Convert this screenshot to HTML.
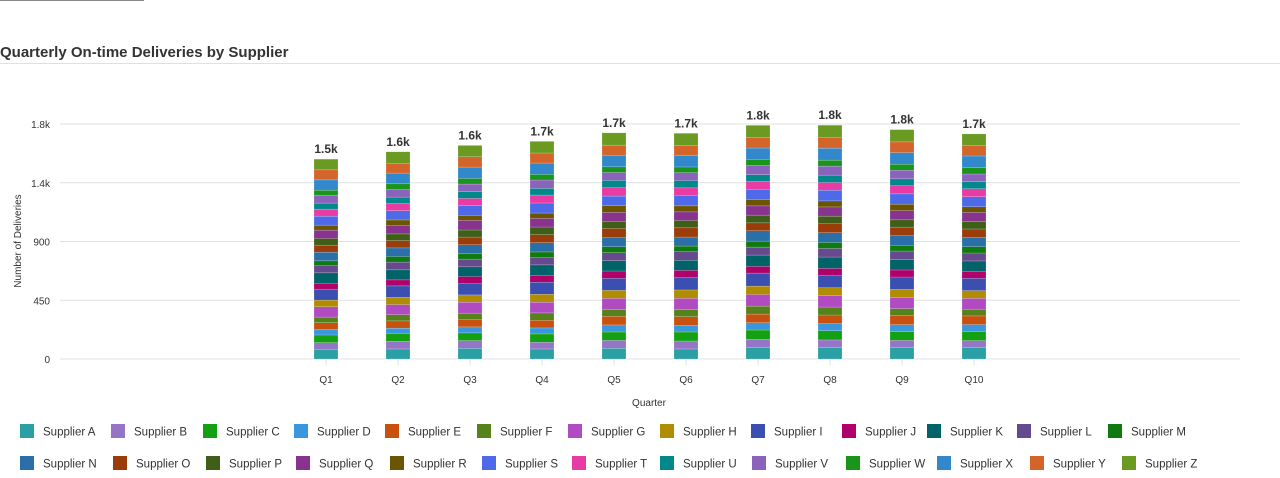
<!DOCTYPE html>
<html><head><meta charset="utf-8"><style>
body{margin:0;width:1280px;height:478px;background:#fff;font-family:"Liberation Sans",sans-serif;overflow:hidden;position:relative}
.t{position:absolute;left:0;top:44px;font-size:15px;font-weight:bold;color:#333}
</style></head><body>
<div style="position:absolute;left:0;top:0;width:144px;height:1px;background:#888"></div>
<div class="t">Quarterly On-time Deliveries by Supplier</div>
<div style="position:absolute;left:0;top:63px;width:1280px;height:1px;background:#e0e0e0"></div>
<svg id="chart" width="1280" height="478" style="position:absolute;left:0;top:0" font-family="Liberation Sans, sans-serif"></svg>
<script>
const quarters=["Q1","Q2","Q3","Q4","Q5","Q6","Q7","Q8","Q9","Q10"];
const suppliers=["Supplier A","Supplier B","Supplier C","Supplier D","Supplier E","Supplier F","Supplier G","Supplier H","Supplier I","Supplier J","Supplier K","Supplier L","Supplier M","Supplier N","Supplier O","Supplier P","Supplier Q","Supplier R","Supplier S","Supplier T","Supplier U","Supplier V","Supplier W","Supplier X","Supplier Y","Supplier Z"];
const colors=["#2aa0a4","#9575c5","#13a113","#3a97dd","#c9510f","#55821a","#b04bc2","#b08c00","#3b4fb1","#b0006a","#006368","#654b8d","#0f7a0f","#2a6fa8","#9b3d0a","#3f5e17","#88348f","#6b5500","#4e6ae8","#e83ca4","#00888a","#8a63bb","#18951a","#3388cc","#d4652a","#6a9a22"];
const q1=[74,51,59,43,51,43,79,51,84,43,82,56,36,66,54,51,64,38,69,54,46,61,38,79,77,82];
const q2=[77,59,59,41,56,48,77,56,87,46,77,59,43,66,56,51,64,43,71,56,48,59,43,82,74,89];
const q3=[82,59,59,46,56,49,84,56,87,54,74,59,41,69,59,54,74,38,74,56,51,59,43,87,79,87];
const q4=[77,51,64,46,59,56,82,61,92,51,82,56,43,71,61,59,66,41,77,61,51,64,43,87,77,89];
const q5=[82,61,64,54,66,51,87,61,92,56,79,61,46,69,71,54,69,51,74,64,56,61,43,89,77,94];
const q6=[77,61,69,51,66,54,87,64,94,56,77,66,43,69,71,56,66,46,79,59,56,61,43,87,79,92];
const q7=[87,64,71,56,66,61,89,64,100,51,87,61,46,79,61,59,71,48,79,61,51,71,46,87,82,92];
const q8=[87,59,71,54,66,61,87,61,94,54,87,66,46,74,71,56,71,46,82,59,56,69,46,92,82,94];
const q9=[87,56,66,54,69,54,84,64,94,54,79,66,43,74,66,56,71,49,79,64,51,66,46,89,82,94];
const q10=[87,54,69,54,66,51,84,59,94,54,79,61,49,71,64,56,71,43,77,61,54,59,49,89,82,87];
const seriesByQuarter=[q1,q2,q3,q4,q5,q6,q7,q8,q9,q10];
const yTicks=[0,450,900,1350,1800];
const yTickLabels=["0","450","900","1.4k","1.8k"];

const NS="http://www.w3.org/2000/svg";
const svg=document.getElementById('chart');
function mk(t,a){const e=document.createElementNS(NS,t);for(const k in a)e.setAttribute(k,a[k]);svg.appendChild(e);return e;}
const y=v=>359-v*235/1800;
const x=i=>326+72*i;
const bw=24;
yTicks.forEach((v,i)=>{
  const g=mk('line',{x1:60,x2:1240,y1:y(v),y2:y(v),stroke:'#e0e0e0','stroke-width':1});
  
  
  const t=mk('text',{x:50,y:y(v)+4,'text-anchor':'end','font-size':10,fill:'#333'});
  t.textContent=yTickLabels[i];
  
  
});
quarters.forEach((q,i)=>{
  let acc=0;
  const vals=seriesByQuarter[i];
  vals.forEach((v,s)=>{
    const r=mk('rect',{x:x(i)-bw/2,y:y(acc+v),width:bw,height:y(acc)-y(acc+v),fill:colors[s],stroke:'#fff','stroke-opacity':0.35,'stroke-width':0.5});
    
    
    acc+=v;
  });
  const lb=mk('text',{x:x(i),y:y(acc)-6,'text-anchor':'middle','font-size':12,'font-weight':'bold',fill:'#333'});
  lb.textContent=(acc/1000).toFixed(1)+'k';
  
  
  const tk=mk('line',{x1:x(i),x2:x(i),y1:360,y2:365,stroke:'#e0e0e0'});
  
  
  const xl=mk('text',{x:x(i),y:383,'text-anchor':'middle','font-size':10,fill:'#333'});
  xl.textContent=q;
  
  
});
const xt=mk('text',{x:649,y:406,'text-anchor':'middle','font-size':10,fill:'#333'});
xt.textContent='Quarter';


const yt=mk('text',{x:0,y:0,'text-anchor':'middle','font-size':10,fill:'#333',transform:'translate(21,241) rotate(-90)'});
yt.textContent='Number of Deliveries';


const legX=[20,111,203,294,385,477,568,660,751,842,927,1017,1108,20,113,206,296,390,482,572,660,752,846,937,1030,1122];
suppliers.forEach((s,i)=>{
  const ly=i<13?424:456;
  const sw=mk('rect',{x:legX[i],y:ly,width:14,height:14,fill:colors[i]});
  
  
  const lt=mk('text',{x:legX[i]+23,y:ly+11.5,'font-size':11.5,fill:'#333'});
  lt.textContent=s;
  
  
});
</script>
</body></html>
